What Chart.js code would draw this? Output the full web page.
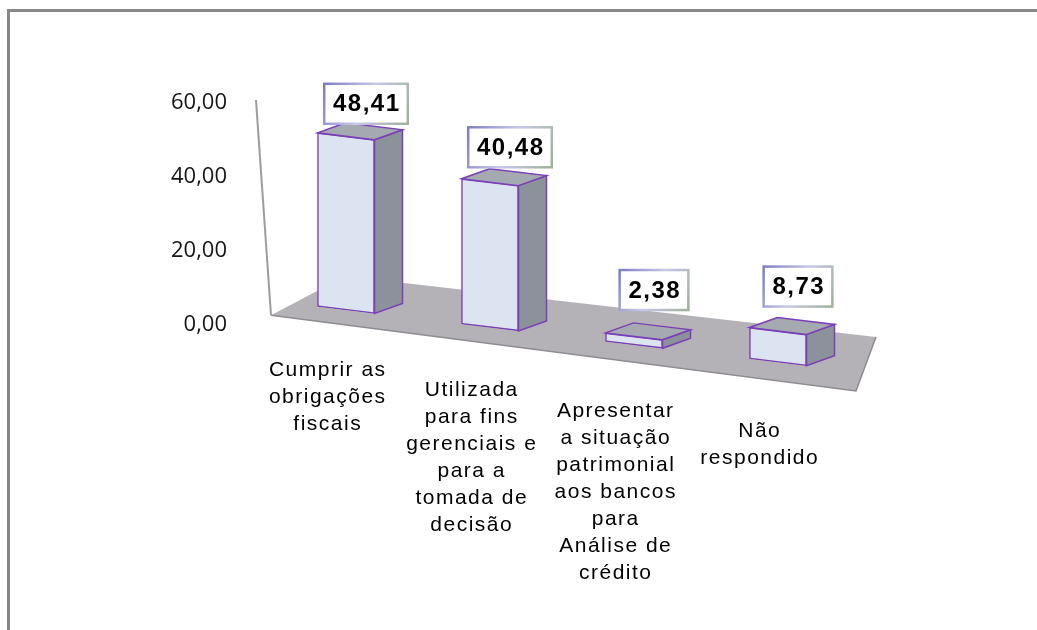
<!DOCTYPE html>
<html lang="pt">
<head>
<meta charset="utf-8">
<title>Finalidade da contabilidade</title>
<script src="https://cdn.jsdelivr.net/npm/chart.js@4.4.0/dist/chart.umd.min.js"></script>
<style>
  html, body { margin: 0; padding: 0; background: #fff; }
  #wrap { position: relative; width: 1037px; height: 630px; overflow: hidden; }
  #moldura {
    position: absolute; left: 7px; top: 9px; right: -10px; bottom: -10px;
    border-top: 3px solid #878787; border-left: 3px solid #878787;
  }
  canvas { position: absolute; left: 0; top: 0; }
</style>
</head>
<body>
<div id="wrap">
  <div id="moldura"></div>
  <canvas id="grafico" width="1037" height="630"></canvas>
</div>
<script>
// dados
const categorias = [
  ['Cumprir as', 'obrigações', 'fiscais'],
  ['Utilizada', 'para fins', 'gerenciais e', 'para a', 'tomada de', 'decisão'],
  ['Apresentar', 'a situação', 'patrimonial', 'aos bancos', 'para', 'Análise de', 'crédito'],
  ['Não', 'respondido']
];
const percentuais = [48.41, 40.48, 2.38, 8.73];
const ticksY = [0, 20, 40, 60];

const fmt = v => v.toFixed(2).replace('.', ',');

// "perspectiva" 3D: cisalhamento aplicado às barras
const K = 0.121, S = 0.97, E = 19, F = -44.8;
const DX = 28, DY = (-10 - K * DX) / S;
const tela = (x, y) => [x + E, K * x + S * y + F];

function poly(ctx, pts) {
  ctx.beginPath();
  ctx.moveTo(pts[0][0], pts[0][1]);
  for (let i = 1; i < pts.length; i++) ctx.lineTo(pts[i][0], pts[i][1]);
  ctx.closePath();
}

const perspectiva = {
  id: 'perspectiva',
  beforeDatasetsDraw(chart) {
    const { ctx, chartArea: a, scales: { y } } = chart;
    const y0 = y.getPixelForValue(0);
    const [lx, ly] = tela(a.left, y0);
    const [rx, ry] = tela(a.right, y0);
    const fl = [lx - 3, ly + 14], fr = [rx + 6, ry + 20];
    const br = [fr[0] + 20, fr[1] - 54], bl = [fl[0] + 74, fl[1] - 39];

    // piso
    ctx.save();
    poly(ctx, [fl, bl, br, fr]);
    ctx.fillStyle = '#b4b1b7';
    ctx.fill();
    ctx.strokeStyle = '#8e8b91';
    ctx.lineWidth = 1.5;
    ctx.beginPath();
    ctx.moveTo(fl[0], fl[1]); ctx.lineTo(fr[0], fr[1]); ctx.lineTo(br[0], br[1]);
    ctx.stroke();
    // eixo vertical inclinado
    ctx.strokeStyle = '#9c9c9c';
    ctx.lineWidth = 2;
    ctx.beginPath();
    ctx.moveTo(a.left + 1, a.top - 3);
    ctx.lineTo(fl[0], fl[1]);
    ctx.stroke();
    ctx.restore();

    ctx.save();
    ctx.transform(1, K, 0, S, E, F);
  },
  afterDatasetsDraw(chart) {
    const ctx = chart.ctx;
    const meta = chart.getDatasetMeta(0);
    meta.data.forEach(el => {
      const { x, y: top, base, width } = el.getProps(['x', 'y', 'base', 'width'], true);
      const xl = x - width / 2, xr = x + width / 2;
      ctx.lineWidth = 1.5;
      ctx.strokeStyle = '#7b3fb8';
      poly(ctx, [[xr, top], [xr + DX, top + DY], [xr + DX, base + DY], [xr, base]]);
      ctx.fillStyle = '#8c9299';
      ctx.fill(); ctx.stroke();
      poly(ctx, [[xl, top], [xl + DX, top + DY], [xr + DX, top + DY], [xr, top]]);
      ctx.fillStyle = '#a5aab1';
      ctx.fill(); ctx.stroke();
    });
    ctx.restore();

    // rótulos de valor
    ctx.save();
    ctx.font = 'bold 24px "Liberation Sans", Arial, sans-serif';
    ctx.letterSpacing = '1.5px';
    ctx.textAlign = 'center';
    ctx.textBaseline = 'middle';
    meta.data.forEach((el, i) => {
      const { x, y: top } = el.getProps(['x', 'y'], true);
      const [sx, sy] = tela(x, top);
      const txt = fmt(percentuais[i]);
      const w = ctx.measureText(txt).width + 16, h = 40;
      const cx = sx + 20, bottom = sy - 27 + 0.3 * percentuais[i];
      const bx = cx - w / 2, by = bottom - h;
      ctx.fillStyle = '#fff';
      ctx.fillRect(bx, by, w, h);
      const g = ctx.createLinearGradient(bx, by, bx + w, by + h);
      g.addColorStop(0, '#7d7dc2');
      g.addColorStop(0.5, '#c8c8e8');
      g.addColorStop(1, '#9fb09a');
      ctx.strokeStyle = g;
      ctx.lineWidth = 2.5;
      ctx.strokeRect(bx, by, w, h);
      ctx.fillStyle = '#000';
      ctx.fillText(txt, cx + 0.75, by + h / 2 + 1);
    });
    ctx.restore();
  },
  afterDraw(chart) {
    // rótulos das categorias acompanham a inclinação do piso
    const { ctx, scales: { x: xs, y: ys } } = chart;
    const x0 = xs.getPixelForTick(0);
    const y0 = ys.getPixelForValue(0);
    ctx.save();
    ctx.font = '21px "Liberation Sans", Arial, sans-serif';
    ctx.letterSpacing = '1.5px';
    ctx.textAlign = 'center';
    ctx.textBaseline = 'alphabetic';
    ctx.fillStyle = '#000';
    categorias.forEach((linhas, i) => {
      const x = xs.getPixelForTick(i);
      const base = y0 + 51 + 0.1417 * (x - x0);
      linhas.forEach((t, j) => ctx.fillText(t, x + 0.75, base + j * 27));
    });
    ctx.restore();
  }
};

new Chart(document.getElementById('grafico'), {
  type: 'bar',
  data: {
    labels: categorias,
    datasets: [{
      data: percentuais,
      backgroundColor: '#dbe4f0',
      borderColor: '#7b3fb8',
      borderWidth: 1.5,
      borderSkipped: false,
      barThickness: 57,
      clip: false
    }]
  },
  options: {
    responsive: false,
    devicePixelRatio: 1,
    animation: false,
    layout: { padding: { left: 145, right: 206, top: 103, bottom: 245 } },
    plugins: { legend: { display: false }, tooltip: { enabled: false } },
    scales: {
      x: {
        offset: true,
        grid: { display: false },
        border: { display: false },
        ticks: { display: false },
        afterFit: s => { s.height = 60; }
      },
      y: {
        min: 0,
        max: 60,
        grid: { display: false },
        border: { display: false },
        afterBuildTicks: s => { s.ticks = ticksY.map(v => ({ value: v })); },
        afterFit: s => { s.width = 110; },
        ticks: {
          padding: 20,
          color: '#141414',
          font: { family: '"Open Sans", sans-serif', size: 22 },
          callback: v => fmt(v)
        }
      }
    }
  },
  plugins: [perspectiva]
});
</script>
</body>
</html>
